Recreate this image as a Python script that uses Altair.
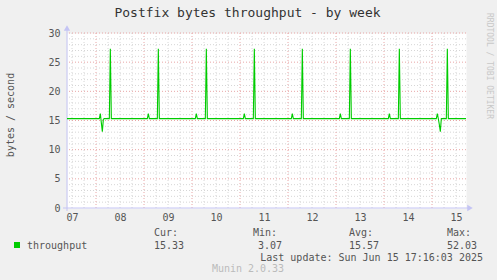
import altair as alt
import pandas as pd

# ---- data (UTC timestamps, bytes/second) ----
times = [
    "2025-06-07T09:30:00Z",
    "2025-06-08T01:40:00Z", "2025-06-08T02:10:00Z", "2025-06-08T02:40:00Z", "2025-06-08T03:10:00Z", "2025-06-08T03:40:00Z", "2025-06-08T04:10:00Z",
    "2025-06-08T06:40:00Z", "2025-06-08T07:10:00Z", "2025-06-08T07:40:00Z",
    "2025-06-09T01:40:00Z", "2025-06-09T02:10:00Z", "2025-06-09T02:40:00Z",
    "2025-06-09T06:40:00Z", "2025-06-09T07:10:00Z", "2025-06-09T07:40:00Z",
    "2025-06-10T01:40:00Z", "2025-06-10T02:10:00Z", "2025-06-10T02:40:00Z",
    "2025-06-10T06:40:00Z", "2025-06-10T07:10:00Z", "2025-06-10T07:40:00Z",
    "2025-06-11T01:40:00Z", "2025-06-11T02:10:00Z", "2025-06-11T02:40:00Z",
    "2025-06-11T06:40:00Z", "2025-06-11T07:10:00Z", "2025-06-11T07:40:00Z",
    "2025-06-12T01:40:00Z", "2025-06-12T02:10:00Z", "2025-06-12T02:40:00Z",
    "2025-06-12T06:40:00Z", "2025-06-12T07:10:00Z", "2025-06-12T07:40:00Z",
    "2025-06-13T01:40:00Z", "2025-06-13T02:10:00Z", "2025-06-13T02:40:00Z",
    "2025-06-13T06:40:00Z", "2025-06-13T07:10:00Z", "2025-06-13T07:40:00Z",
    "2025-06-14T02:10:00Z", "2025-06-14T02:40:00Z", "2025-06-14T03:10:00Z",
    "2025-06-14T07:10:00Z", "2025-06-14T07:40:00Z", "2025-06-14T08:10:00Z",
    "2025-06-15T02:10:00Z", "2025-06-15T02:40:00Z", "2025-06-15T03:10:00Z", "2025-06-15T03:40:00Z", "2025-06-15T04:10:00Z", "2025-06-15T04:40:00Z",
    "2025-06-15T07:10:00Z", "2025-06-15T07:40:00Z", "2025-06-15T08:10:00Z",
    "2025-06-15T17:00:00Z",
]
values = [
    15.33,
    15.33, 16.2, 14.6, 13.1, 15.2, 15.33,
    15.33, 27.3, 15.33,
    15.33, 16.2, 15.33,
    15.33, 27.3, 15.33,
    15.33, 16.2, 15.33,
    15.33, 27.3, 15.33,
    15.33, 16.2, 15.33,
    15.33, 27.3, 15.33,
    15.33, 16.2, 15.33,
    15.33, 27.3, 15.33,
    15.33, 16.2, 15.33,
    15.33, 27.3, 15.33,
    15.33, 16.2, 15.33,
    15.33, 27.3, 15.33,
    15.33, 16.2, 15.3, 14.3, 13.1, 15.33,
    15.33, 27.3, 15.33,
    15.33,
]

day_label_days = list(range(7, 16))          # labels at noon of each day
midnights = [f"2025-06-{d:02d}T00:00:00Z" for d in range(8, 16)]
six_hours = [f"2025-06-{d:02d}T{h:02d}:00:00Z" for d in range(7, 16) for h in (6, 12, 18)
             if (d, h) != (7, 6) and (d, h) != (15, 18)]
y_major = [5, 10, 15, 20, 25, 30]
y_minor = [v for v in range(1, 30) if v % 5 != 0]
y_ticks = [0, 5, 10, 15, 20, 25, 30]

title_text = "Postfix bytes throughput - by week"
y_title = "bytes / second"
series_name = "throughput"
stat_heads = ["Cur:", "Min:", "Avg:", "Max:"]
stat_vals = ["15.33", "3.07", "15.57", "52.03"]
last_update = "Last update: Sun Jun 15 17:16:03 2025"
footer = "Munin 2.0.33"
side_text = "RRDTOOL / TOBI OETIKER"

FONT = "DejaVu Sans Mono"
L, T = 67, 33
W, H = 399, 175

df = pd.DataFrame({"t": times, "v": values})

xscale = alt.Scale(type="utc",
                   domain=[alt.DateTime(year=2025, month=6, date=7, hours=9, minutes=30, utc=True),
                           alt.DateTime(year=2025, month=6, date=15, hours=17, minutes=0, utc=True)],
                   nice=False)
yscale = alt.Scale(domain=[0, 30], nice=False, zero=True)

xaxis = alt.Axis(
    values=[alt.DateTime(year=2025, month=6, date=d, hours=12, utc=True) for d in day_label_days],
    labelExpr="utcFormat(datum.value, '%d')",
    title=None, grid=False, domain=False, ticks=False,
    labelFont=FONT, labelFontSize=10, labelColor="#555555", labelPadding=4)
yaxis = alt.Axis(
    values=y_ticks, title=None, grid=False, domain=False, ticks=False,
    labelFont=FONT, labelFontSize=10, labelColor="#555555", labelPadding=7)

line = alt.Chart(df).mark_line(color="#00CC00", strokeWidth=1.1).encode(
    x=alt.X("t:T", scale=xscale, axis=xaxis),
    y=alt.Y("v:Q", scale=yscale, axis=yaxis))

grid_minor_x = alt.Chart(pd.DataFrame({"t": six_hours})).mark_rule(
    color="#D6D6D6", strokeWidth=1, strokeDash=[1, 2]).encode(
    x=alt.X("t:T", scale=xscale, axis=xaxis))
grid_major_x = alt.Chart(pd.DataFrame({"t": midnights})).mark_rule(
    color="#E8A6A6", strokeWidth=1, strokeDash=[1, 2]).encode(
    x=alt.X("t:T", scale=xscale, axis=xaxis))
grid_minor_y = alt.Chart(pd.DataFrame({"v": y_minor})).mark_rule(
    color="#D6D6D6", strokeWidth=1, strokeDash=[1, 2]).encode(
    y=alt.Y("v:Q", scale=yscale, axis=yaxis))
grid_major_y = alt.Chart(pd.DataFrame({"v": y_major})).mark_rule(
    color="#E8A6A6", strokeWidth=1, strokeDash=[1, 2]).encode(
    y=alt.Y("v:Q", scale=yscale, axis=yaxis))

one = alt.Data(values=[{"a": 1}])
AX = "#C4C4F4"


def txt(s, x, y, size=10, color="#555555", align="left", angle=0):
    return alt.Chart(one).mark_text(
        text=s, font=FONT, fontSize=size, color=color, align=align,
        baseline="middle", angle=angle).encode(
        x=alt.value(x - L), y=alt.value(y - T))


axis_left = alt.Chart(one).mark_rule(color=AX, strokeWidth=1).encode(
    x=alt.value(0), y=alt.value(-5), y2=alt.value(H + 3))
axis_bottom = alt.Chart(one).mark_rule(color=AX, strokeWidth=1).encode(
    x=alt.value(-4), x2=alt.value(W + 3), y=alt.value(H))
arrow_up = alt.Chart(one).mark_point(shape="triangle-up", filled=True, color=AX, size=40, opacity=1).encode(
    x=alt.value(0), y=alt.value(-5))
arrow_right = alt.Chart(one).mark_point(shape="triangle-right", filled=True, color=AX, size=40, opacity=1).encode(
    x=alt.value(W + 4), y=alt.value(H))

legend_box = alt.Chart(one).mark_square(color="#00CC00", size=36, opacity=1, filled=True).encode(
    x=alt.value(17 - L), y=alt.value(245 - T))

layers = [grid_minor_x, grid_minor_y, grid_major_x, grid_major_y, axis_left, axis_bottom,
          arrow_up, arrow_right, line, legend_box,
          txt(title_text, 247.5, 13, size=13, color="#333333", align="center"),
          txt(y_title, 11, 115, color="#555555", align="center", angle=270),
          txt(side_text, 489, 66, size=8, color="#C8C8C8", align="center", angle=90),
          txt(series_name, 27, 246),
          txt(last_update, 483, 258, align="right"),
          txt(footer, 248, 269, color="#BBBBBB", align="center")]
head_x = [154, 253, 349, 447]
val_x = [154, 258, 349, 447]
for hx, vx, hs, vs in zip(head_x, val_x, stat_heads, stat_vals):
    layers.append(txt(hs, hx, 233))
    layers.append(txt(vs, vx, 246))

chart = alt.layer(*layers).properties(
    width=W, height=H,
    autosize=alt.AutoSizeParams(type="none"),
    padding={"left": L, "top": T, "right": 497 - L - W, "bottom": 280 - T - H},
    background="#F0F0F0",
).configure_view(fill="white", stroke="transparent")

chart.save("out.html", embed_options={"renderer": "svg", "actions": False})
